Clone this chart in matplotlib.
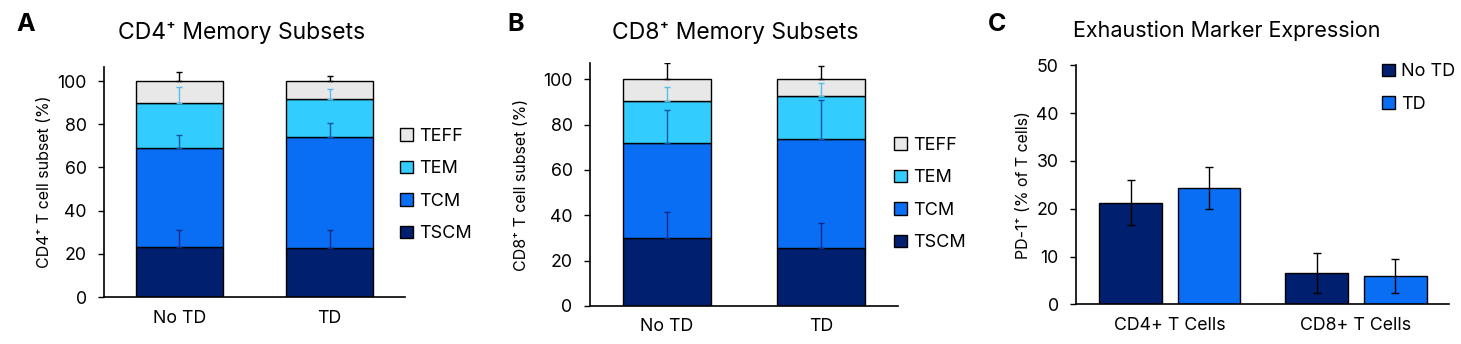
import matplotlib.pyplot as plt
import numpy as np

plt.rcParams['font.family'] = ['Inter', 'DejaVu Sans']

# ---- data ----
groups = ['No TD', 'TD']
subsets = ['TSCM', 'TCM', 'TEM', 'TEFF']

# panel A, CD4+ subsets (% of cells), bottom to top
cd4_tscm = [23.2, 22.5]
cd4_tcm = [45.6, 51.6]
cd4_tem = [20.9, 17.7]
cd4_teff = [10.3, 8.2]
cd4_tscm_err = [8.0, 8.5]
cd4_tcm_err = [6.3, 6.3]
cd4_tem_err = [7.4, 4.5]
cd4_teff_err = [4.2, 2.5]

# panel B, CD8+ subsets
cd8_tscm = [30.0, 25.4]
cd8_tcm = [41.8, 48.1]
cd8_tem = [18.5, 19.0]
cd8_teff = [9.7, 7.5]
cd8_tscm_err = [11.3, 11.1]
cd8_tcm_err = [14.5, 17.4]
cd8_tem_err = [6.4, 5.9]
cd8_teff_err = [7.0, 6.0]

# panel C, PD-1+ expression
cell_types = ['CD4+ T Cells', 'CD8+ T Cells']
pd1_no_td = [21.3, 6.5]
pd1_td = [24.4, 5.9]
pd1_no_td_err = [4.8, 4.2]
pd1_td_err = [4.4, 3.6]

seg_colors = ['#001f6e', '#0a6ef5', '#33ccff', '#e8e8e8']
err_colors = ['#0a2a80', '#0a55a8', '#55bde8', 'black']

TICK_FS = 12.8
LEG_FS = 13
W, H = 1461, 344


def stacked_panel(ax, layers, errs, ylabel, ytop, legend_anchor):
    x = np.arange(len(groups))
    bottom = np.zeros(len(groups))
    handles = []
    for name, vals, err, col, ecol in zip(subsets, layers, errs, seg_colors, err_colors):
        vals = np.array(vals)
        b = ax.bar(x, vals, 0.575, bottom=bottom, color=col, edgecolor='black',
                   linewidth=1.0, label=name, zorder=2)
        handles.append(b)
        top = bottom + vals
        # only the upper half of each error bar is shown
        ax.errorbar(x, top, yerr=[np.zeros(len(groups)), err], fmt='none',
                    ecolor=ecol, elinewidth=1.0, capsize=2.5, capthick=1.0, zorder=3)
        bottom = top
    ax.set_xlim(-0.5, 1.5)
    ax.set_ylim(0, ytop)
    ax.set_yticks(np.arange(0, 101, 20))
    ax.set_xticks(x)
    ax.set_xticklabels(groups, fontsize=TICK_FS)
    ax.set_ylabel(ylabel, fontsize=11.5)
    ax.legend(handles[::-1], subsets[::-1], loc='center left', bbox_to_anchor=legend_anchor,
              frameon=False, fontsize=LEG_FS, handlelength=0.7, handleheight=0.7,
              handletextpad=0.35, labelspacing=0.86, borderpad=0, borderaxespad=0)


def style_axes(ax):
    for s in ['top', 'right']:
        ax.spines[s].set_visible(False)
    ax.spines['left'].set_linewidth(1.2)
    ax.spines['bottom'].set_linewidth(1.2)
    ax.tick_params(axis='y', labelsize=TICK_FS, length=4.5, width=1.0, pad=8)
    ax.tick_params(axis='x', length=0, pad=9)


fig = plt.figure(figsize=(14.61, 3.44), dpi=100)
axA = fig.add_axes([0.0712, 0.1366, 0.206, 0.6684])
axB = fig.add_axes([0.4038, 0.1105, 0.2108, 0.7064])
axC = fig.add_axes([0.7365, 0.1154, 0.2553, 0.6946])

stacked_panel(axA, [cd4_tscm, cd4_tcm, cd4_tem, cd4_teff],
              [cd4_tscm_err, cd4_tcm_err, cd4_tem_err, cd4_teff_err],
              'CD4⁺ T cell subset (%)', 106.5, (0.983, 0.487))
stacked_panel(axB, [cd8_tscm, cd8_tcm, cd8_tem, cd8_teff],
              [cd8_tscm_err, cd8_tcm_err, cd8_tem_err, cd8_teff_err],
              'CD8⁺ T cell subset (%)', 107.2, (0.987, 0.461))

# panel C, grouped bars
xc = np.arange(len(cell_types))
off = 0.21
wc = 0.338
axC.bar(xc - off, pd1_no_td, wc, color=seg_colors[0], edgecolor='black', linewidth=1.0,
        label='No TD', zorder=2)
axC.bar(xc + off, pd1_td, wc, color=seg_colors[1], edgecolor='black', linewidth=1.0,
        label='TD', zorder=2)
axC.errorbar(xc - off, pd1_no_td, yerr=pd1_no_td_err, fmt='none', ecolor='black',
             elinewidth=1.0, capsize=3, capthick=1.0, zorder=3)
axC.errorbar(xc + off, pd1_td, yerr=pd1_td_err, fmt='none', ecolor='black',
             elinewidth=1.0, capsize=3, capthick=1.0, zorder=3)
axC.set_xlim(-0.505, 1.5)
axC.set_ylim(0, 50)
axC.set_yticks(np.arange(0, 51, 10))
axC.set_xticks(xc)
axC.set_xticklabels(cell_types, fontsize=TICK_FS)
axC.set_ylabel('PD-1⁺ (% of T cells)', fontsize=11.5)
axC.legend(loc='center left', bbox_to_anchor=(0.82, 0.905), frameon=False, fontsize=LEG_FS,
           handlelength=0.7, handleheight=0.7, handletextpad=0.35, labelspacing=0.86,
           borderpad=0, borderaxespad=0)

for ax in (axA, axB, axC):
    style_axes(ax)

# y label positions (right edge of the rotated label)
axA.yaxis.set_label_coords(-0.172, 0.5)
axB.yaxis.set_label_coords(-0.198, 0.5)
axC.yaxis.set_label_coords(-0.122, 0.5)

# panel titles
fig.text(242 / W, 1 - 39 / H, 'CD4⁺ Memory Subsets', fontsize=16.5, ha='center', va='baseline')
fig.text(735 / W, 1 - 39 / H, 'CD8⁺ Memory Subsets', fontsize=16.5, ha='center', va='baseline')
fig.text(1073 / W, 1 - 37 / H, 'Exhaustion Marker Expression', fontsize=15.5, ha='left',
         va='baseline')

# panel letters
fig.text(16 / W, 1 - 31 / H, 'A', fontsize=18, fontweight='bold')
fig.text(507 / W, 1 - 31 / H, 'B', fontsize=18, fontweight='bold')
fig.text(988 / W, 1 - 31 / H, 'C', fontsize=18, fontweight='bold')

fig.savefig('out.png', dpi=100)
